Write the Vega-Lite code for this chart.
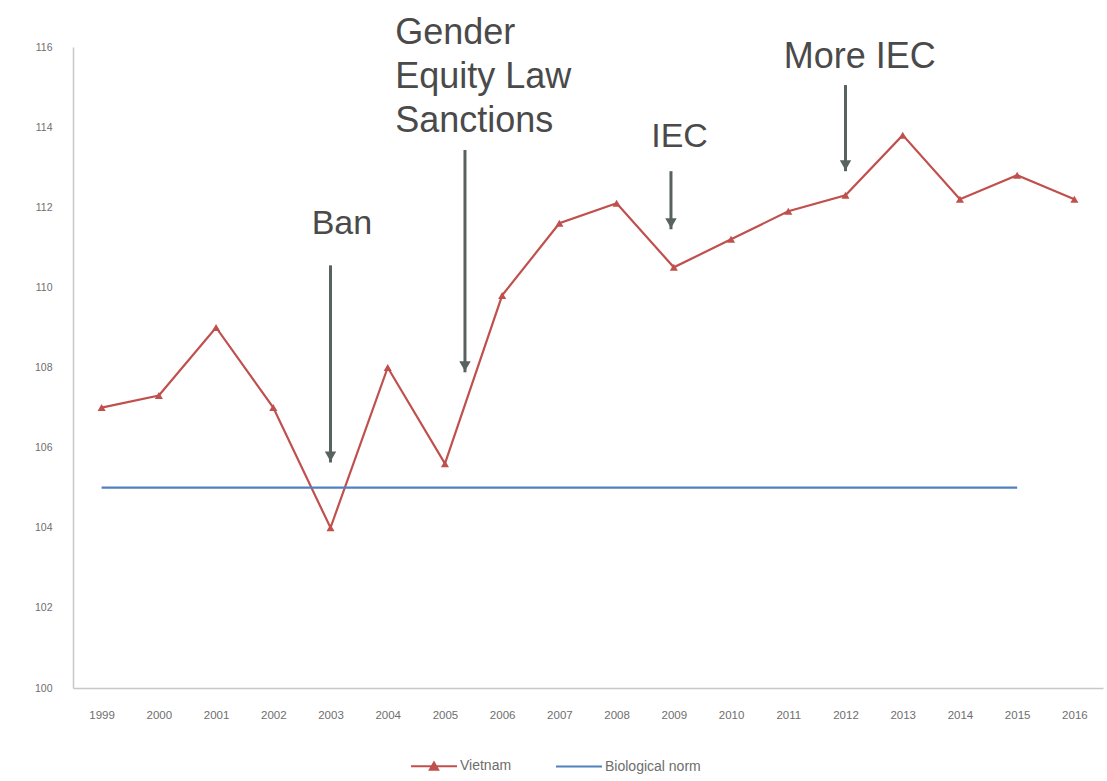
{
  "$schema": "https://vega.github.io/schema/vega-lite/v6.json",
  "width": 1030,
  "height": 641,
  "autosize": {"type": "none"},
  "padding": {"left": 73, "top": 47, "right": 4, "bottom": 93},
  "background": "white",
  "config": {"view": {"stroke": null}, "font": "Liberation Sans"},
  "layer": [
    {
      "data": {"values": [
        {"year": 1999, "value": 107.0, "series": "Vietnam"},
        {"year": 2000, "value": 107.3, "series": "Vietnam"},
        {"year": 2001, "value": 109.0, "series": "Vietnam"},
        {"year": 2002, "value": 107.0, "series": "Vietnam"},
        {"year": 2003, "value": 104.0, "series": "Vietnam"},
        {"year": 2004, "value": 108.0, "series": "Vietnam"},
        {"year": 2005, "value": 105.6, "series": "Vietnam"},
        {"year": 2006, "value": 109.8, "series": "Vietnam"},
        {"year": 2007, "value": 111.6, "series": "Vietnam"},
        {"year": 2008, "value": 112.1, "series": "Vietnam"},
        {"year": 2009, "value": 110.5, "series": "Vietnam"},
        {"year": 2010, "value": 111.2, "series": "Vietnam"},
        {"year": 2011, "value": 111.9, "series": "Vietnam"},
        {"year": 2012, "value": 112.3, "series": "Vietnam"},
        {"year": 2013, "value": 113.8, "series": "Vietnam"},
        {"year": 2014, "value": 112.2, "series": "Vietnam"},
        {"year": 2015, "value": 112.8, "series": "Vietnam"},
        {"year": 2016, "value": 112.2, "series": "Vietnam"},
        {"year": 1999, "value": 105.0, "series": "Biological norm"},
        {"year": 2015, "value": 105.0, "series": "Biological norm"}
      ]},
      "layer": [
        {
          "mark": {"type": "line", "strokeWidth": 2.2},
          "encoding": {
            "x": {"field": "year", "type": "quantitative",
              "scale": {"domain": [1998.5, 2016.5], "nice": false, "zero": false},
              "axis": {"title": null, "values": [1999,2000,2001,2002,2003,2004,2005,2006,2007,2008,2009,2010,2011,2012,2013,2014,2015,2016],
                "format": "d", "grid": false, "ticks": false, "labelPadding": 21, "labelFontSize": 11.5,
                "labelColor": "#6e6e6e", "domainColor": "#c8c8c8", "domainWidth": 1.5, "labelFlush": false, "labelOverlap": false}},
            "y": {"field": "value", "type": "quantitative",
              "scale": {"domain": [100, 116], "nice": false, "zero": false},
              "axis": {"title": null, "values": [100,102,104,106,108,110,112,114,116], "grid": false, "ticks": false,
                "labelPadding": 21, "labelFontSize": 10.5, "labelColor": "#6e6e6e", "domainColor": "#c8c8c8", "domainWidth": 1.5}},
            "color": {"field": "series", "type": "nominal",
              "scale": {"domain": ["Vietnam", "Biological norm"], "range": ["#c0504d", "#4f81bd"]},
              "legend": {"orient": "none", "legendX": 337, "legendY": 695, "direction": "horizontal", "title": null,
                "symbolType": "stroke", "symbolSize": 2116, "symbolStrokeWidth": 2, "labelFontSize": 14,
                "labelColor": "#6e6e6e", "columnPadding": 40, "labelOffset": 2, "padding": 0,
                "encode": {"symbols": {"update": {
                  "shape": {"signal": "datum.value === 'Vietnam' ? 'M-1,0H1M-0.18,0.16L0,-0.16L0.18,0.16Z' : 'M-1,0H1'"},
                  "fill": {"signal": "datum.value === 'Vietnam' ? '#c0504d' : 'transparent'"}}}}}}
          }
        },
        {
          "transform": [{"filter": "datum.series === 'Vietnam'"}],
          "mark": {"type": "point", "shape": "triangle-up", "filled": true, "size": 65, "color": "#c0504d", "opacity": 1},
          "encoding": {
            "x": {"field": "year", "type": "quantitative"},
            "y": {"field": "value", "type": "quantitative"}
          }
        }
      ]
    },
    {
      "data": {"values": [
        {"x": 2003, "top": 110.55, "tip": 105.63},
        {"x": 2005.35, "top": 113.43, "tip": 107.88},
        {"x": 2008.95, "top": 112.9, "tip": 111.45},
        {"x": 2012.0, "top": 115.05, "tip": 112.9}
      ]},
      "layer": [
        {
          "mark": {"type": "rule", "strokeWidth": 3, "color": "#58625e"},
          "encoding": {
            "x": {"field": "x", "type": "quantitative"},
            "y": {"field": "top", "type": "quantitative"},
            "y2": {"field": "tip"}
          }
        },
        {
          "mark": {"type": "point", "shape": "triangle-down", "filled": true, "size": 130, "color": "#58625e", "opacity": 1, "yOffset": -6},
          "encoding": {
            "x": {"field": "x", "type": "quantitative"},
            "y": {"field": "tip", "type": "quantitative"}
          }
        }
      ]
    },
    {
      "data": {"values": [
        {"x": 2003.2, "y": 111.58, "label": "Ban"},
        {"x": 2009.1, "y": 113.75, "label": "IEC"}
      ]},
      "mark": {"type": "text", "fontSize": 34, "color": "#4a4a4a", "baseline": "middle", "align": "center"},
      "encoding": {
        "x": {"field": "x", "type": "quantitative"},
        "y": {"field": "y", "type": "quantitative"},
        "text": {"field": "label"}
      }
    },
    {
      "data": {"values": [
        {"x": 2012.25, "y": 115.75, "label": "More IEC"}
      ]},
      "mark": {"type": "text", "fontSize": 36, "color": "#4a4a4a", "baseline": "middle", "align": "center"},
      "encoding": {
        "x": {"field": "x", "type": "quantitative"},
        "y": {"field": "y", "type": "quantitative"},
        "text": {"field": "label"}
      }
    },
    {
      "data": {"values": [
        {"x": 2004.13, "y": 116.35, "label": "Gender\nEquity Law\nSanctions"}
      ]},
      "mark": {"type": "text", "fontSize": 36, "color": "#4a4a4a", "lineBreak": "\n", "lineHeight": 44, "baseline": "middle", "align": "left"},
      "encoding": {
        "x": {"field": "x", "type": "quantitative"},
        "y": {"field": "y", "type": "quantitative"},
        "text": {"field": "label"}
      }
    }
  ]
}
